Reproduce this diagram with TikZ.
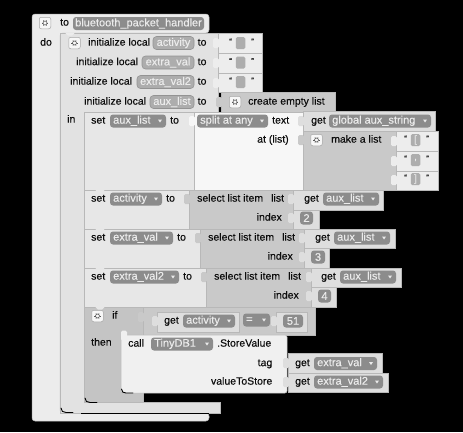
\documentclass[tikz,border=0pt]{standalone}
\usepackage{fontspec}
\setmainfont[FakeBold=0.25]{Liberation Sans}
\definecolor{cOuter}{gray}{0.925}
\definecolor{cIn}{gray}{0.885}
\definecolor{cSet}{gray}{0.905}
\definecolor{cSel}{gray}{0.79}
\definecolor{cIf}{gray}{0.77}
\definecolor{cWhite}{gray}{0.97}
\definecolor{cCall}{gray}{0.94}
\definecolor{cStr}{gray}{0.93}
\definecolor{cGet}{gray}{0.87}
\definecolor{cField}{gray}{0.55}
\definecolor{cVar}{gray}{0.68}
\definecolor{cLine}{gray}{0.72}
\definecolor{cText}{gray}{0.05}
\definecolor{cFText}{gray}{0.92}
\tikzset{
  txt/.style={inner sep=0pt,text=cText,font=\fontsize{10.5}{12}\selectfont},
  ftxt/.style={inner sep=0pt,text=cFText,font=\fontsize{11}{13}\selectfont},
  gearbox/.style={draw=gray!70,fill=cWhite,rounded corners=2pt,minimum size=11.5pt,inner sep=0pt,line width=.5pt},
  blockedge/.style={draw=cLine,line width=.5pt},
  darkedge/.style={draw=black,line width=.9pt},
}
\newcommand\blk[5]{\path[blockedge,fill=#1] (#2,#3) rectangle (#4,#5);}
\newcommand\tab[3]{\fill[#1,rounded corners=1.5pt] (#2-5,#3-5) rectangle (#2+1,#3+5);}
\newcommand\notch[3]{\fill[#1] (#2-5,#3-.5) -- (#2+5,#3-.5) -- (#2+2,#3+2.5) -- (#2-2,#3+2.5) -- cycle;}
\newcommand\lab[4]{\node[txt,anchor=mid west] (#1) at (#2,#3) {#4};}
\newcommand\labr[4]{\node[txt,anchor=mid east] (#1) at (#2,#3) {#4};}
\newcommand\fld[5]{\fill[cField,rounded corners=3pt] (#2,#4-6.5) rectangle (#3,#4+6.5);
  \node[ftxt,anchor=mid west] (#1) at (#2+3,#4) {#5};
  \fill[cFText] (#3-8,#4-1.5) -- (#3-4,#4-1.5) -- (#3-6,#4+1.5) -- cycle;}
\newcommand\pfld[5]{\fill[cField,rounded corners=3pt] (#2,#4-6.5) rectangle (#3,#4+6.5);
  \node[ftxt] (#1) at ({(#2+#3)/2},#4) {#5};}
\newcommand\vfld[5]{\path[draw=gray!85,line width=.6pt,fill=cVar,rounded corners=3.5pt] (#2,#4-6.5) rectangle (#3,#4+6.5);
  \node[ftxt] (#1) at ({(#2+#3)/2},#4) {#5};}
\newcommand\gear[3]{\node[gearbox] (#1) at (#2,#3) {};
  \draw[gray!70!black,line width=.6pt] (#2,#3) circle (2pt);
  \foreach \a in {0,60,...,300}{\draw[gray!70!black,line width=.5pt] (#2,#3) ++(\a:2pt) -- ++(\a:1.2pt);}}
\newcommand\strv[4]{\node[txt,font=\fontsize{8}{9}\selectfont,anchor=mid west] (#1a) at (#2,#3-1.5) {“};
  \node[fill=cVar,inner sep=0pt,minimum width=9.5pt,minimum height=12pt,rounded corners=1.5pt,text=cFText,font=\fontsize{10}{11}\selectfont] (#1) at (#2+11.5,#3) {#4};
  \node[txt,font=\fontsize{8}{9}\selectfont,anchor=mid west] (#1b) at (#2+22,#3-1.5) {”};}
\begin{document}
\begin{tikzpicture}[x=1pt,y=-1pt]
\fill[black] (0,0) rectangle (463,432);
\useasboundingbox (0,0) rectangle (463,432);
% procedure block
\path[blockedge,fill=cOuter,rounded corners=3pt] (32,14) -- (209,14) -- (209,33) -- (60,33) -- (60,413) -- (209,413) -- (209,421) -- (32,421) -- cycle;
% local-variable block
\path[blockedge,fill=cIn] (60,33) -- (218,33) -- (218,112) -- (84,112) -- (84,402) -- (220,402) -- (220,413) -- (60,413) -- cycle;
\draw[darkedge,line cap=round] (61,408) .. controls (61,411) and (63,412.5) .. (66,412.5) -- (73,412.5);
\draw[darkedge] (81,413) -- (209,413);
\notch{cOuter}{70}{33}
\lab{tTo}{60}{23}{to}
\pfld{fName}{73}{204}{23.5}{bluetooth\_packet\_handler}
\lab{tDo}{40}{43}{do}
\gear{g1}{45}{23}
\gear{g2}{74.5}{43}
% init rows
\lab{i1}{88}{43}{initialize local}
\vfld{v1}{153}{194}{43}{activity}
\lab{i1to}{197.5}{43}{to}
\lab{i2}{76}{62.5}{initialize local}
\vfld{v2}{142}{194}{62.5}{extra\_val}
\lab{i2to}{197.5}{62.5}{to}
\lab{i3}{70}{82}{initialize local}
\vfld{v3}{137}{194}{82}{extra\_val2}
\lab{i3to}{197.5}{82}{to}
\lab{i4}{84}{102}{initialize local}
\vfld{v4}{150}{194}{102}{aux\_list}
\lab{i4to}{197.5}{102}{to}
\lab{tIn}{67}{120}{in}
% string values
\blk{cStr}{218}{33}{262}{53}
\blk{cStr}{218}{53}{262}{73}
\blk{cStr}{218}{73}{262}{92.5}
\tab{cStr}{218}{43}\tab{cStr}{218}{63}\tab{cStr}{218}{83}
\strv{s1}{229}{43}{}
\strv{s2}{229}{62.5}{}
\strv{s3}{229}{82}{}
% create empty list
\blk{cSel}{221}{92.5}{335}{112}
\tab{cSel}{221}{102}
\gear{g3}{235}{102}
\lab{tCreate}{248}{102}{create empty list}
% set aux_list
\blk{cSet}{84}{112}{194}{190}
\lab{tS1}{91}{121}{set}
\fld{f1}{110}{166}{121}{aux\_list}
\lab{tS1to}{170}{121}{to}
\blk{cWhite}{194}{112}{303}{190}
\tab{cWhite}{194}{121}
\fld{f2}{197}{268}{121}{split at any}
\lab{tText}{272}{121}{text}
\lab{tAt}{257}{140}{at (list)}
% get global
\blk{cGet}{303}{111}{435.5}{131}
\tab{cGet}{303}{121}
\lab{tGet1}{311}{121}{get}
\fld{f3}{329}{431}{121}{global aux\_string}
% make a list
\blk{cSel}{303}{131}{396}{190}
\tab{cSel}{303}{140}
\gear{g4}{316.5}{140}
\lab{tMake}{331}{140}{make a list}
\blk{cStr}{396}{131}{438}{151}
\blk{cStr}{396}{151}{438}{171}
\blk{cStr}{396}{171}{438}{190}
\tab{cStr}{396}{141}\tab{cStr}{396}{161}\tab{cStr}{396}{180}
\strv{s4}{404}{140}{[}
\strv{s5}{404}{160}{,}
\strv{s6}{404}{179}{]}
% set activity
\blk{cSet}{84}{190}{189}{229}
\notch{cSet}{100}{190}
\lab{tS2}{91}{199}{set}
\fld{f4}{110}{162}{199}{activity}
\lab{tS2to}{166}{199}{to}
\blk{cSel}{189}{190}{293}{229}
\tab{cSel}{189}{199}
\lab{tSel1}{197}{199}{select list item}
\lab{tL1}{271}{199}{list}
\labr{tI1}{282}{218}{index}
\blk{cGet}{293}{190}{383}{210}
\tab{cGet}{293}{199}
\lab{tGet2}{304}{199}{get}
\fld{f5}{323}{379}{199}{aux\_list}
\blk{cGet}{293}{210}{319}{229}
\tab{cGet}{293}{218}
\pfld{n2}{300}{313}{218}{2}
% set extra_val
\blk{cSet}{84}{229}{200}{268}
\notch{cSet}{100}{229}
\lab{tS3}{91}{238}{set}
\fld{f6}{110}{173}{238}{extra\_val}
\lab{tS3to}{177}{238}{to}
\blk{cSel}{200}{229}{304}{268}
\tab{cSel}{200}{238}
\lab{tSel2}{208}{238}{select list item}
\lab{tL2}{282}{238}{list}
\labr{tI2}{293}{257}{index}
\blk{cGet}{304}{229}{395}{248}
\tab{cGet}{304}{238}
\lab{tGet3}{315}{238}{get}
\fld{f7}{334}{390}{238}{aux\_list}
\blk{cGet}{304}{248}{329}{268}
\tab{cGet}{304}{257}
\pfld{n3}{311}{325}{257}{3}
% set extra_val2
\blk{cSet}{84}{268}{206}{307}
\notch{cSet}{100}{268}
\lab{tS4}{91}{277}{set}
\fld{f8}{110}{179}{277}{extra\_val2}
\lab{tS4to}{183}{277}{to}
\blk{cSel}{206}{268}{311}{307}
\tab{cSel}{206}{277}
\lab{tSel3}{214}{277}{select list item}
\lab{tL3}{288}{277}{list}
\labr{tI3}{299}{296}{index}
\blk{cGet}{311}{268}{401}{287}
\tab{cGet}{311}{277}
\lab{tGet4}{321}{277}{get}
\fld{f9}{340}{396}{277}{aux\_list}
\blk{cGet}{311}{287}{336}{307}
\tab{cGet}{311}{296}
\pfld{n4}{318}{331}{296}{4}
% if block
\path[blockedge,fill=cIf] (84,307) -- (143,307) -- (143,402) -- (84,402) -- cycle;
\draw[darkedge,line cap=round] (85,398) .. controls (85,401) and (87,402.5) .. (90,402.5) -- (97,402.5);
\notch{cSet}{100}{307}
\gear{g5}{97.5}{316}
\lab{tIf}{112}{316}{if}
\lab{tThen}{91}{343}{then}
\blk{cSel}{143}{307}{315}{335}
\tab{cSel}{143}{317}
\blk{cGet}{157}{312}{239}{332}
\tab{cGet}{157}{321}
\lab{tGet5}{164}{321}{get}
\fld{f10}{183}{235}{321}{activity}
\fld{fEq}{243}{270}{320}{=}
\blk{cGet}{276}{312}{307}{332}
\tab{cGet}{276}{321}
\pfld{n51}{283}{303}{321}{51}
% call block
\path[blockedge,fill=cCall,rounded corners=2pt] (121,335) rectangle (287,393);
\draw[darkedge,line cap=round] (121.5,389) .. controls (121.5,392) and (123.5,393) .. (126,393) -- (133,393);
\tab{cCall}{126}{335.5}
\lab{tCall}{128}{344}{call}
\fld{f11}{151}{213}{344}{TinyDB1}
\lab{tStore}{217}{344}{.StoreValue}
\labr{tTag}{272.5}{363.5}{tag}
\labr{tVal}{272.5}{382}{valueToStore}
\blk{cGet}{288}{353}{382}{373}
\tab{cGet}{288}{363}
\lab{tGet6}{295}{363.5}{get}
\fld{f12}{314}{377}{363.5}{extra\_val}
\blk{cGet}{288}{373}{388}{392}
\tab{cGet}{288}{382}
\lab{tGet7}{295}{382}{get}
\fld{f13}{314}{383}{382}{extra\_val2}
\end{tikzpicture}
\end{document}
